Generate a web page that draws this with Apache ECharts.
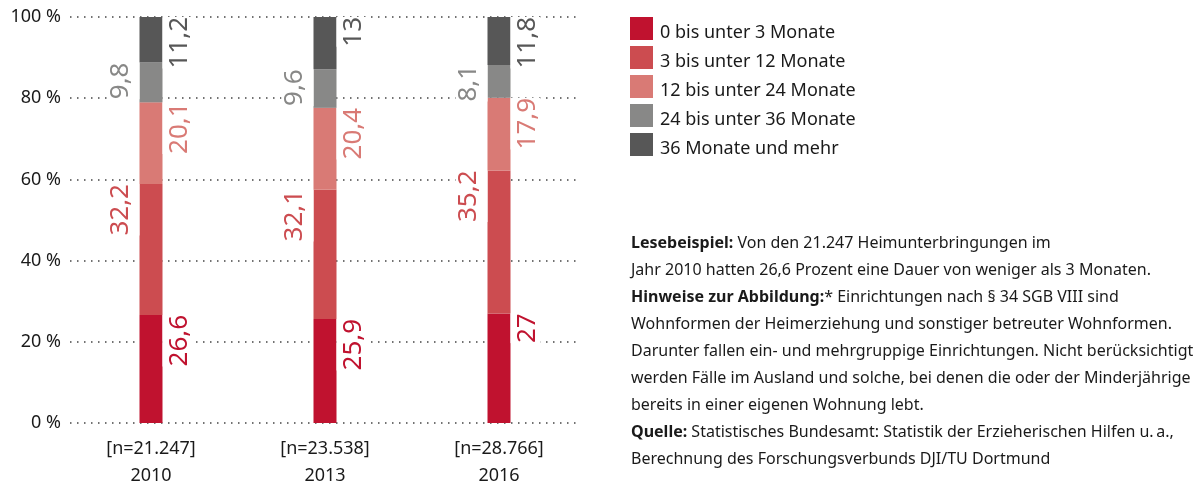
<!DOCTYPE html>
<html>
<head>
<meta charset="utf-8">
<script src="https://cdn.jsdelivr.net/npm/echarts@6/dist/echarts.min.js"></script>
<style>
  html, body { margin: 0; padding: 0; background: #fff; }
  #chart { width: 1204px; height: 485px; }
</style>
</head>
<body>
<div id="chart"></div>
<script>
// Kategorien / Achse
var years = ['2010', '2013', '2016'];
var sampleSizes = ['[n=21.247]', '[n=23.538]', '[n=28.766]'];
var yTicks = [0, 20, 40, 60, 80, 100];

// Reihen (Prozent)
var seriesNames = ['0 bis unter 3 Monate', '3 bis unter 12 Monate', '12 bis unter 24 Monate', '24 bis unter 36 Monate', '36 Monate und mehr'];
var months0to3 = [26.6, 25.9, 27];
var months3to12 = [32.2, 32.1, 35.2];
var months12to24 = [20.1, 20.4, 17.9];
var months24to36 = [9.8, 9.6, 8.1];
var months36plus = [11.2, 13, 11.8];

var colors = ['#c0122f', '#cc4c50', '#d97a75', '#888887', '#575757'];
var FONT = '"Noto Sans", sans-serif';

var allSeries = [months0to3, months3to12, months12to24, months24to36, months36plus];

// Summe je Jahr, damit jeder Balken auf 100 % normiert wird
var totals = years.map(function (y, i) {
    return allSeries.reduce(function (s, arr) { return s + arr[i]; }, 0);
});

var chart = echarts.init(document.getElementById('chart'));

var series = allSeries.map(function (values, k) {
    var right = (k % 2 === 0);
    return {
        name: seriesNames[k],
        type: 'bar',
        stack: 'dauer',
        xAxisIndex: 0,
        yAxisIndex: 0,
        barWidth: 23,
        itemStyle: { color: colors[k] },
        label: {
            show: true,
            position: right ? ['100%', '0%'] : ['0%', '0%'],
            rotate: 90,
            align: 'right',
            verticalAlign: right ? 'top' : 'bottom',
            padding: right ? [4, 0, 0, 0] : [0, 0, 6, 0],
            backgroundColor: '#fff',
            fontFamily: FONT,
            fontSize: 26,
            color: colors[k],
            formatter: function (p) {
                return String(p.data.raw).replace('.', ',');
            }
        },
        data: values.map(function (v, i) {
            return { value: v / totals[i] * 100, raw: v };
        })
    };
});

var option = {
    animation: false,
    backgroundColor: '#fff',
    textStyle: { fontFamily: FONT },
    grid: [
        { left: 64, width: 522, top: 17, height: 406, outerBoundsMode: 'none' },
        { left: 70, width: 508, top: 17, height: 406, outerBoundsMode: 'none' }
    ],
    legend: {
        orient: 'vertical',
        left: 630,
        top: 17,
        padding: 0,
        itemWidth: 23,
        itemHeight: 23,
        itemGap: 4,
        icon: 'rect',
        selectedMode: false,
        data: seriesNames,
        formatter: '{t|{name}}',
        textStyle: {
            fontFamily: FONT, fontSize: 18, color: '#1a1a1a',
            rich: { t: { fontFamily: FONT, fontSize: 18, color: '#1a1a1a', padding: [9, 0, 0, 2] } }
        }
    },
    xAxis: [{
        type: 'category',
        gridIndex: 0,
        data: years.map(function (y, i) { return sampleSizes[i] + '\n' + y; }),
        axisLine: { show: false },
        axisTick: { show: false },
        axisLabel: { fontFamily: FONT, fontSize: 18, lineHeight: 27, color: '#1a1a1a', margin: 12 }
    }, {
        type: 'value',
        gridIndex: 1,
        show: false
    }],
    yAxis: [{
        type: 'value',
        gridIndex: 0,
        min: 0,
        max: 100,
        show: false
    }, {
        type: 'value',
        gridIndex: 1,
        min: yTicks[0],
        max: yTicks[yTicks.length - 1],
        interval: 20,
        axisLine: { show: false },
        axisTick: { show: false },
        axisLabel: { formatter: '{value} %', fontFamily: FONT, fontSize: 18, color: '#1a1a1a', margin: 9 },
        splitLine: { lineStyle: { type: [1.5, 5.5], width: 1.5, color: '#444' } }
    }],
    graphic: [{
        type: 'text',
        left: 631,
        top: 230,
        style: {
            text: [
                '{b|Lesebeispiel:}{n| Von den 21.247 Heimunterbringungen im}',
                '{n|Jahr 2010 hatten 26,6 Prozent eine Dauer von weniger als 3 Monaten.}',
                '{b|Hinweise zur Abbildung:}{n|* Einrichtungen nach § 34 SGB VIII sind}',
                '{n|Wohnformen der Heimerziehung und sonstiger betreuter Wohnformen.}',
                '{n|Darunter fallen ein- und mehrgruppige Einrichtungen. Nicht berücksichtigt}',
                '{n|werden Fälle im Ausland und solche, bei denen die oder der Minderjährige}',
                '{n|bereits in einer eigenen Wohnung lebt.}',
                '{b|Quelle:}{n| Statistisches Bundesamt: Statistik der Erzieherischen Hilfen u.\u202Fa.,}',
                '{n|Berechnung des Forschungsverbunds DJI/TU Dortmund}'
            ].join('\n'),
            fill: '#1a1a1a',
            font: '16px ' + FONT,
            lineHeight: 27,
            rich: {
                b: { fontFamily: FONT, fontSize: 16, fontWeight: 'bold', lineHeight: 27, fill: '#1a1a1a' },
                n: { fontFamily: FONT, fontSize: 16, lineHeight: 27, fill: '#1a1a1a' }
            }
        }
    }],
    series: series
};

chart.setOption(option);
</script>
</body>
</html>
